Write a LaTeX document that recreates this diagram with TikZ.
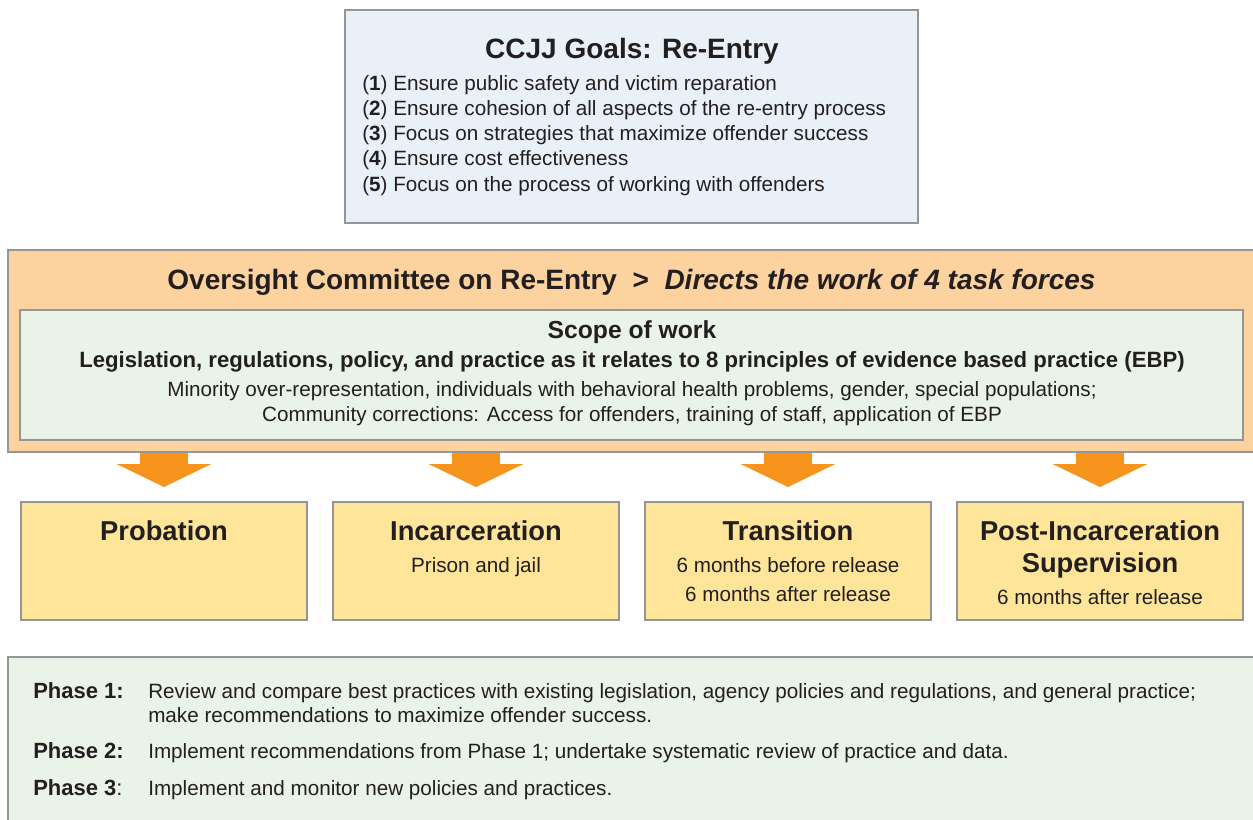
\documentclass[tikz,border=0pt]{standalone}
\usepackage{fontspec}
\setmainfont{Liberation Sans}
\usetikzlibrary{arrows.meta}

\definecolor{ink}{HTML}{231F20}
\definecolor{rule}{HTML}{939598}
\definecolor{goalblue}{HTML}{E9F0F8}
\definecolor{peach}{HTML}{FCD29F}
\definecolor{palegreen}{HTML}{EAF3E8}
\definecolor{sand}{HTML}{FFE59A}
\definecolor{tforange}{HTML}{F7941E}

\begin{document}
\begin{tikzpicture}[x=0.75pt,y=-0.75pt,
	box/.style={ draw=rule, line width=1.5pt, inner sep=0pt },
	goalsbox/.style={ box, fill=goalblue, minimum width=429.75pt, minimum height=159.75pt },
	outerbox/.style={ box, fill=peach, minimum width=937.5pt, minimum height=151.5pt },
	scopebox/.style={ box, fill=palegreen, minimum width=917.25pt, minimum height=97.5pt },
	taskbox/.style={ box, fill=sand, minimum width=214.5pt, minimum height=88.5pt },
	phasebox/.style={ box, fill=palegreen, minimum width=937.5pt, minimum height=129.75pt },
	txt/.style={ text=ink, inner sep=0pt, anchor=base, font=\fontsize{15.5}{18}\selectfont },
	txtl/.style={ txt, anchor=base west },
	bigtitle/.style={ txt, font=\fontsize{21}{25}\selectfont\bfseries },
	tasktitle/.style={ txt, font=\fontsize{20.5}{24}\selectfont\bfseries },
	tfarrow/.style={ draw=tforange, line width=36pt, -{Triangle[width=71pt,length=17.25pt,line width=0pt]} }
]
\useasboundingbox (0,0) rectangle (1253,819);

% goals
\node at (631.5,116.5) (goals) [goalsbox] {};
\node at (632,58) (goalstitle) [bigtitle] {CCJJ Goals: Re-Entry};
\node at (362,90.5) (g1) [txtl] {(\textbf{1}) Ensure public safety and victim reparation};
\node at (362,115.5) (g2) [txtl] {(\textbf{2}) Ensure cohesion of all aspects of the re-entry process};
\node at (362,140.5) (g3) [txtl] {(\textbf{3}) Focus on strategies that maximize offender success};
\node at (362,165.5) (g4) [txtl] {(\textbf{4}) Ensure cost effectiveness};
\node at (362,191.5) (g5) [txtl] {(\textbf{5}) Focus on the process of working with offenders};

% oversight committee
\node at (633,351) (over) [outerbox] {};
\node at (631.5,289) (overtitle) [bigtitle] {Oversight Committee on Re-Entry \ >\ \ \textit{Directs the work of 4 task forces}};
\node at (631.5,375) (scope) [scopebox] {};
\node at (632,338) (scopetitle) [txt, font=\fontsize{18.5}{22}\selectfont\bfseries] {Scope of work};
\node at (632,367.5) (scopemain) [txt, font=\fontsize{16.6}{20}\selectfont\bfseries] {Legislation, regulations, policy, and practice as it relates to 8 principles of evidence based practice (EBP)};
\node at (632,396) (scope1) [txt] {Minority over-representation, individuals with behavioral health problems, gender, special populations;};
\node at (632,421) (scope2) [txt] {Community corrections: Access for offenders, training of staff, application of EBP};

% task forces
\node at (164,561) (prob) [taskbox] {};
\node at (164,540) (probt) [tasktitle] {Probation};
\node at (476,561) (inc) [taskbox] {};
\node at (476,540) (inct) [tasktitle] {Incarceration};
\node at (476,572) (incs) [txt] {Prison and jail};
\node at (788,561) (trans) [taskbox] {};
\node at (788,540) (transt) [tasktitle] {Transition};
\node at (788,572) (transs1) [txt] {6 months before release};
\node at (788,601) (transs2) [txt] {6 months after release};
\node at (1100,561) (post) [taskbox] {};
\node at (1100,540) (postt1) [tasktitle] {Post-Incarceration};
\node at (1100,572) (postt2) [tasktitle] {Supervision};
\node at (1100,604) (posts) [txt] {6 months after release};

\draw[tfarrow] (prob.north |- over.south) -- ([yshift=10.5pt]prob.north);
\draw[tfarrow] (inc.north |- over.south) -- ([yshift=10.5pt]inc.north);
\draw[tfarrow] (trans.north |- over.south) -- ([yshift=10.5pt]trans.north);
\draw[tfarrow] (post.north |- over.south) -- ([yshift=10.5pt]post.north);

% phases
\node at (633,743.5) (phases) [phasebox] {};
\node at (33,698) (p1) [txtl, font=\fontsize{16.5}{20}\selectfont\bfseries] {Phase 1:};
\node at (148,698) (p1a) [txtl] {Review and compare best practices with existing legislation, agency policies and regulations, and general practice;};
\node at (148,722) (p1b) [txtl] {make recommendations to maximize offender success.};
\node at (33,758) (p2) [txtl, font=\fontsize{16.5}{20}\selectfont\bfseries] {Phase 2:};
\node at (148,758) (p2a) [txtl] {Implement recommendations from Phase 1; undertake systematic review of practice and data.};
\node at (33,795) (p3) [txtl, font=\fontsize{16.5}{20}\selectfont] {\textbf{Phase 3}:};
\node at (148,795) (p3a) [txtl] {Implement and monitor new policies and practices.};

\end{tikzpicture}
\end{document}
